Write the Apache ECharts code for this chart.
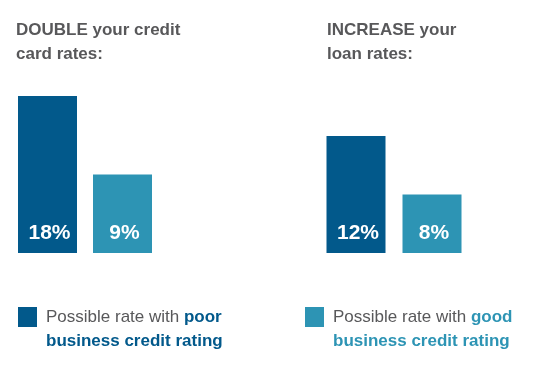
<!DOCTYPE html>
<html>
<head>
<meta charset="utf-8">
<script src="https://cdn.jsdelivr.net/npm/echarts@6/dist/echarts.min.js"></script>
<style>html,body{margin:0;padding:0;background:#fff}#c{width:535px;height:373px}</style>
</head>
<body>
<div id="c"></div>
<script>
var categories = ['poor', 'good'];
var creditCardRates = [18, 9];
var loanRates = [12, 8];
var titles = ['DOUBLE your credit\ncard rates:', 'INCREASE your\nloan rates:'];
var legendLabels = [
  ['Possible rate with ', 'poor', 'business credit rating'],
  ['Possible rate with ', 'good', 'business credit rating']
];

var DARK = '#02598b', LIGHT = '#2d94b4', GRAY = '#58585a';
var FONT = 'Liberation Sans, Arial, Helvetica, sans-serif';
var colors = [DARK, LIGHT];

function items(vals) {
  return vals.map(function (v, i) { return { value: v, itemStyle: { color: colors[i] } }; });
}

var chart = echarts.init(document.getElementById('c'), null, { renderer: 'canvas' });
var labelCfg = {
  show: true, position: 'insideBottom', distance: 9, offset: [2, 0],
  formatter: '{c}%', color: '#fff', fontSize: 21, fontWeight: 'bold', fontFamily: FONT
};
var titleStyle = { color: GRAY, fontSize: 17, fontWeight: 'bold', fontFamily: FONT, lineHeight: 24 };

chart.setOption({
  animation: false,
  backgroundColor: '#fff',
  title: [
    { text: titles[0], left: 16, top: 18, padding: 0, textStyle: titleStyle },
    { text: titles[1], left: 327, top: 18, padding: 0, textStyle: titleStyle }
  ],
  grid: [
    { left: 10, width: 150, top: 96, height: 157 },
    { left: 318, width: 152, top: 136, height: 117 }
  ],
  xAxis: [
    { type: 'category', gridIndex: 0, data: categories, show: false },
    { type: 'category', gridIndex: 1, data: categories, show: false }
  ],
  yAxis: [
    { type: 'value', gridIndex: 0, min: 0, max: 18, show: false },
    { type: 'value', gridIndex: 1, min: 4, max: 12, show: false }
  ],
  series: [
    { type: 'bar', xAxisIndex: 0, yAxisIndex: 0, barWidth: 59, data: items(creditCardRates), label: labelCfg },
    { type: 'bar', xAxisIndex: 1, yAxisIndex: 1, barWidth: 59, data: items(loanRates), label: labelCfg }
  ],
  graphic: [
    { type: 'rect', left: 18, top: 307, shape: { width: 19, height: 20 }, style: { fill: DARK } },
    { type: 'rect', left: 305, top: 307, shape: { width: 19, height: 20 }, style: { fill: LIGHT } },
    { type: 'text', left: 46, top: 309, style: {
        text: '{n|' + legendLabels[0][0] + '}{b|' + legendLabels[0][1] + '}\n{b|' + legendLabels[0][2] + '}',
        rich: {
          n: { fontSize: 17, fontFamily: FONT, fill: GRAY, lineHeight: 24 },
          b: { fontSize: 17, fontFamily: FONT, fontWeight: 'bold', fill: DARK, lineHeight: 24 }
        } } },
    { type: 'text', left: 333, top: 309, style: {
        text: '{n|' + legendLabels[1][0] + '}{b|' + legendLabels[1][1] + '}\n{b|' + legendLabels[1][2] + '}',
        rich: {
          n: { fontSize: 17, fontFamily: FONT, fill: GRAY, lineHeight: 24 },
          b: { fontSize: 17, fontFamily: FONT, fontWeight: 'bold', fill: LIGHT, lineHeight: 24 }
        } } }
  ]
});
</script>
</body>
</html>
